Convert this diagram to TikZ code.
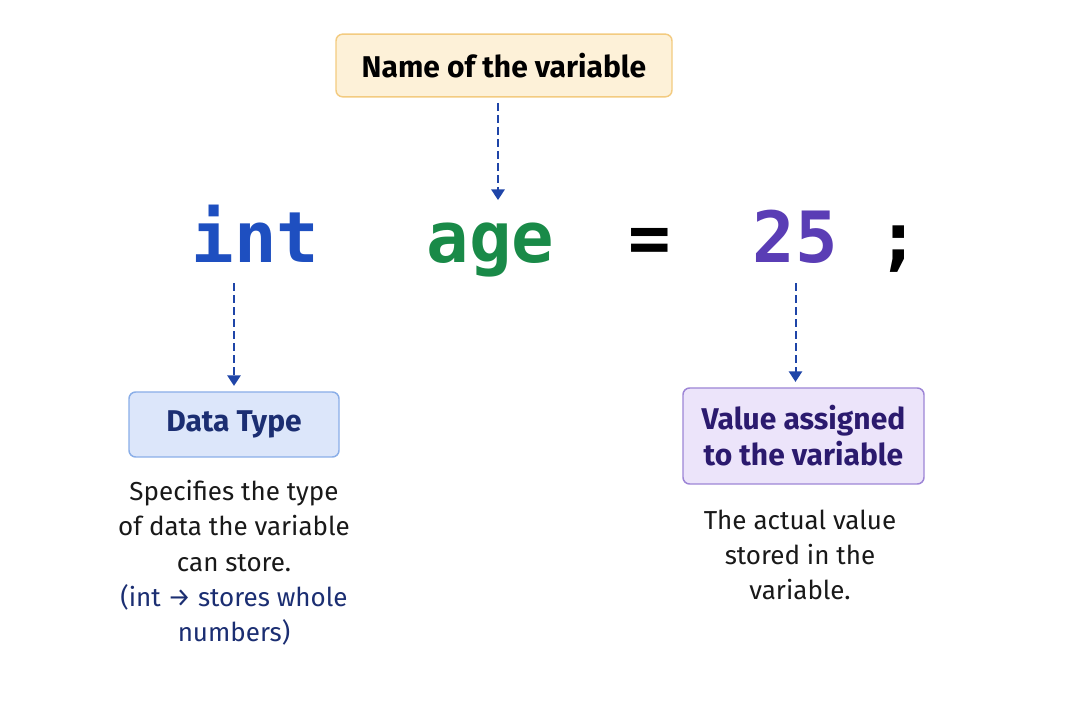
\documentclass[tikz,border=0pt]{standalone}
\usepackage{fontspec}
\setmainfont{Fira Sans}
\newfontfamily\codefont{DejaVu Sans Mono}
\usetikzlibrary{arrows.meta}
\definecolor{linkblue}{HTML}{1F45A8}
\definecolor{intblue}{HTML}{1E4FC0}
\definecolor{agegreen}{HTML}{198A48}
\definecolor{valpurple}{HTML}{5A3DB5}
\definecolor{navy}{HTML}{1B2E72}
\definecolor{deeppurple}{HTML}{2B1A6E}
\definecolor{namefill}{HTML}{FDF1D8}
\definecolor{nameline}{HTML}{F3CB80}
\definecolor{typefill}{HTML}{DCE6FA}
\definecolor{typeline}{HTML}{8AAEE8}
\definecolor{valfill}{HTML}{ECE4FA}
\definecolor{valline}{HTML}{9D85D6}
\begin{document}
\begin{tikzpicture}[x=0.75pt,y=-0.75pt]
   \tikzstyle{code}=[inner sep=0pt, anchor=base, text height=47pt, text depth=15pt, font=\codefont\bfseries\fontsize{53}{60}\selectfont]
   \tikzstyle{tag}=[draw, rounded corners=5pt, line width=1.1pt, align=center, font=\bfseries\fontsize{22.5}{27}\selectfont]
   \tikzstyle{note}=[align=center, text=black!90, font=\fontsize{19.5}{26.5}\selectfont]
   \tikzstyle{link}=[line width=1.5pt, draw=linkblue, dash pattern=on 6pt off 3pt, -{Triangle[length=8pt,width=10pt]}]

\useasboundingbox[fill=white] (0,0) rectangle (1075,716);

\node[tag, fill=namefill, draw=nameline, minimum width=252pt, minimum height=47pt] (name) at (504,65.5) {Name of the variable};

\node[code, text=intblue] (int) at (255.5,263) {int};
\node[code, text=agegreen] (age) at (490.5,263) {age};
\node[code, text=black] (eq) at (649.5,263) {=};
\node[code, text=valpurple] (val) at (795.5,263) {25};
\node[code, text=black] (semi) at (899,263) {;};

\node[tag, fill=typefill, draw=typeline, text=navy, minimum width=157.5pt, minimum height=48.75pt] (dtype) at (234,424.5) {Data Type};
\node[tag, fill=valfill, draw=valline, text=deeppurple, minimum width=180.75pt, minimum height=72pt] (dval) at (803.5,436) {Value assigned\\to the variable};

\node[note] (dtypetext) at (234,563) {Specifies the type\\of data the variable\\can store.\\\textcolor{navy}{(int → stores whole}\\\textcolor{navy}{numbers)}};
\node[note] (dvaltext) at (800,555) {The actual value\\stored in the\\variable.};

\draw[link] ([xshift=-4.5pt,yshift=-4pt]name.south) -- ([xshift=-4.5pt]name.south |- age.north);
\draw[link] (dtype.north |- int.south) -- ([yshift=4pt]dtype.north);
\draw[link] (val.south) -- ([yshift=4pt]val.south |- dval.north);

\end{tikzpicture}
\end{document}
